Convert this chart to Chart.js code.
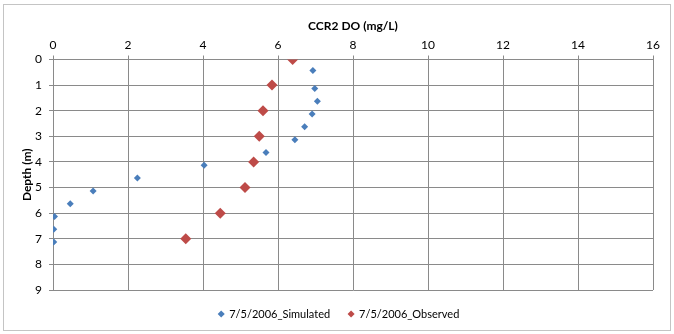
<!DOCTYPE html>
<html>
<head>
<meta charset="utf-8">
<script src="https://cdn.jsdelivr.net/npm/chart.js@4"></script>
<style>
  html, body { margin: 0; padding: 0; background: #fff; }
  #wrap { position: relative; width: 674px; height: 334px; }
  #frame { position: absolute; left: 3px; top: 4px; width: 668px; height: 327px; border: 1px solid #c4c4c4; box-sizing: border-box; pointer-events: none; }
</style>
</head>
<body>
<div id="wrap">
  <canvas id="doChart" width="674" height="334"></canvas>
  <div id="frame"></div>
</div>
<script>
// Simulated DO profile (mg/L vs depth m)
const simDepth = [0.43, 1.13, 1.63, 2.13, 2.63, 3.13, 3.63, 4.13, 4.63, 5.13, 5.63, 6.13, 6.63, 7.13];
const simDO = [6.93, 6.98, 7.05, 6.91, 6.71, 6.45, 5.68, 4.03, 2.25, 1.07, 0.46, 0.04, 0.02, 0.02];

// Observed DO profile
const obsDepth = [0, 1, 2, 3, 4, 5, 6, 7];
const obsDO = [6.39, 5.84, 5.60, 5.50, 5.35, 5.12, 4.46, 3.54];

const seriesLabels = ['7/5/2006_Simulated', '7/5/2006_Observed'];
const xTitle = 'CCR2 DO (mg/L)';
const yTitle = 'Depth (m)';

const FONT = 'Lato, "DejaVu Sans", sans-serif';
const GRID = '#8a8a8a';

const toPoints = (xs, ys) => xs.map((x, i) => ({ x, y: ys[i] }));

new Chart(document.getElementById('doChart'), {
  type: 'scatter',
  data: {
    datasets: [
      {
        label: seriesLabels[0],
        data: toPoints(simDO, simDepth),
        pointStyle: 'rectRot',
        pointRadius: 3.5,
        borderWidth: 0,
        backgroundColor: '#4a7ebb',
        borderColor: '#4a7ebb',
      },
      {
        label: seriesLabels[1],
        data: toPoints(obsDO, obsDepth),
        pointStyle: 'rectRot',
        pointRadius: 5.5,
        borderWidth: 0,
        backgroundColor: '#be4b48',
        borderColor: '#be4b48',
      },
    ],
  },
  options: {
    responsive: false,
    animation: false,
    // left padding nudges the legend centre to where the original sits
    layout: { padding: { left: 25, right: 21, top: 0, bottom: 4.5 } },
    plugins: {
      tooltip: { enabled: false },
      legend: {
        position: 'bottom',
        labels: {
          usePointStyle: true,
          boxWidth: 5,
          boxHeight: 5,
          padding: 18.5,
          color: '#000',
          font: { family: FONT, size: 11 },
        },
      },
    },
    scales: {
      x: {
        type: 'linear',
        position: 'top',
        min: 0,
        max: 16,
        ticks: { stepSize: 2, color: '#000', padding: 3, font: { family: FONT, size: 12 } },
        grid: { color: GRID, tickLength: 4 },
        border: { color: GRID },
        title: { display: true, text: xTitle, color: '#000', padding: { top: 19, bottom: 0 }, font: { family: FONT, size: 12, weight: 'bold' } },
        afterFit: s => { s.height = 59.5; },
      },
      y: {
        type: 'linear',
        reverse: true,
        min: 0,
        max: 9,
        ticks: { stepSize: 1, color: '#000', padding: 7, font: { family: FONT, size: 12 } },
        grid: { color: GRID, tickLength: 4 },
        border: { color: GRID },
        title: { display: true, text: yTitle, color: '#000', padding: { top: -5, bottom: 0 }, font: { family: FONT, size: 12, weight: 'bold' } },
        afterFit: s => { s.width = 28; },
      },
    },
  },
});
</script>
</body>
</html>
